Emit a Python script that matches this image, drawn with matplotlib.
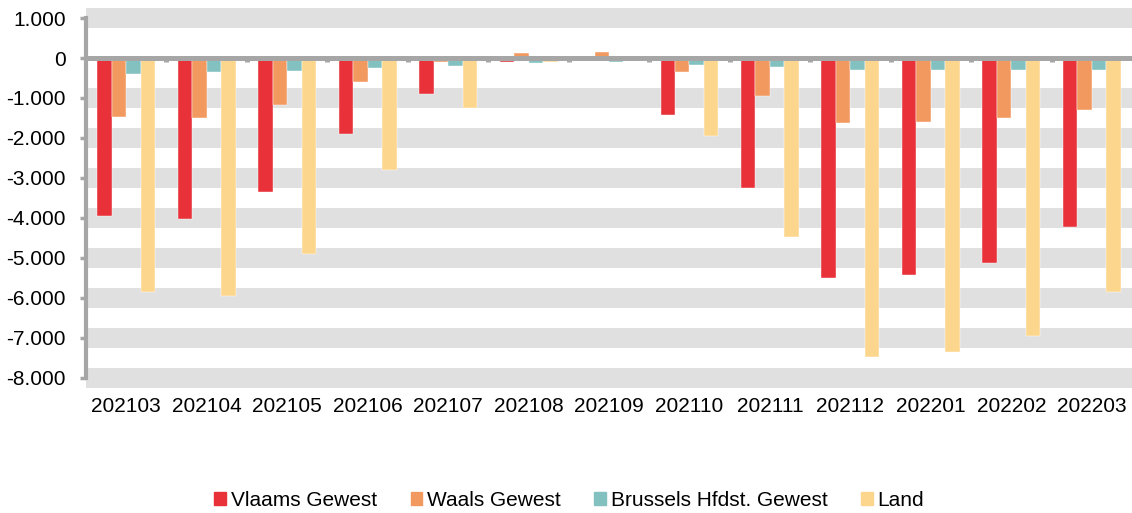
import matplotlib.pyplot as plt
import numpy as np
from matplotlib.ticker import FuncFormatter
from matplotlib.patches import Rectangle

plt.rcParams['font.family'] = ['Liberation Sans', 'DejaVu Sans']

months = ["202103", "202104", "202105", "202106", "202107", "202108", "202109",
          "202110", "202111", "202112", "202201", "202202", "202203"]
vlaams = [-3950, -4030, -3360, -1890, -900, -110, -30, -1430, -3260, -5510, -5430, -5130, -4230]
waals = [-1480, -1500, -1180, -610, -110, 130, 160, -340, -960, -1620, -1590, -1490, -1290]
brussel = [-400, -360, -320, -260, -190, -130, -90, -170, -230, -290, -290, -290, -290]
land = [-5860, -5940, -4900, -2810, -1260, -110, -20, -1940, -4470, -7480, -7360, -6940, -5860]

series = [("Vlaams Gewest", vlaams, "#e83139"),
          ("Waals Gewest", waals, "#f29960"),
          ("Brussels Hfdst. Gewest", brussel, "#83c0c0"),
          ("Land", land, "#fdd68e")]

yticks = list(range(-8000, 1001, 1000))

fig = plt.figure(figsize=(11.32, 5.13), dpi=100)
ax = fig.add_axes([0.076, 0.2437, 0.924, 0.7407])

# grey stripes around each gridline
for t in yticks:
    if t != 0:
        ax.axhspan(t - 250, t + 250, color="#e0e0e0", lw=0, zorder=0)

x = np.arange(len(months))
w = 0.18
for i, (name, vals, col) in enumerate(series):
    ax.bar(x + (i - 1.5) * w, vals, w, color=col, edgecolor="#ffffff", linewidth=0.3,
           label=name, zorder=2)

# zero line with small ticks at the category boundaries
ax.axhline(0, color="#a6a6a6", lw=3.6, zorder=3)
bounds = np.arange(len(months)) + 0.5
ax.vlines(bounds[:-1], -110, 0, color="#a6a6a6", lw=3.6, zorder=3)

ax.set_xlim(-0.5, len(months) - 0.5)
ax.set_ylim(-8250, 1250)
ax.set_yticks(yticks)
ax.yaxis.set_major_formatter(FuncFormatter(lambda v, p: f"{v:,.0f}".replace(",", ".")))
ax.set_xticks(x, months)

for s in ["top", "right", "bottom"]:
    ax.spines[s].set_visible(False)
ax.spines["left"].set_color("#a6a6a6")
ax.spines["left"].set_linewidth(3)
ax.spines["left"].set_bounds(-8000, 1000)
ax.spines["left"].set_zorder(4)

ax.tick_params(axis="y", colors="#a6a6a6", labelcolor="black", length=4.5, width=2.5,
               labelsize=15, pad=10)
ax.tick_params(axis="x", length=0, labelsize=15, pad=6.5)

handles = [Rectangle((0, 0), 1, 1, color=c) for _, _, c in series]
fig.legend(handles, [n for n, _, _ in series], loc="center", bbox_to_anchor=(0.503, 0.025),
           ncol=4, frameon=False, fontsize=15, handlelength=0.55, handleheight=0.55,
           handletextpad=0.25, columnspacing=1.6)

plt.savefig("out.png")
